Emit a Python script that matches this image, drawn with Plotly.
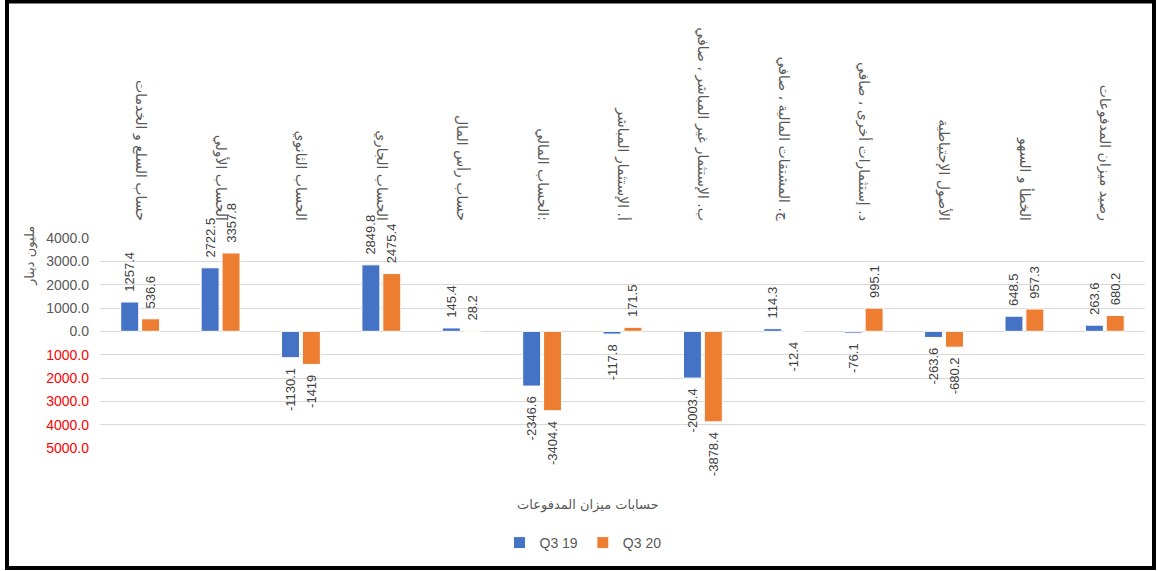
import plotly.graph_objects as go

categories = [
    "حساب السلع و الخدمات",
    "الحساب الأولي",
    "الحساب الثانوي",
    "الحساب الجاري",
    "حساب رأس المال",
    "الحساب المالي:",
    "أ. الإستثمار المباشر",
    "ب. الإستثمار غير المباشر ، صافي",
    "ج. المشتقات المالية ، صافي",
    "د. إستثمارات أخرى ، صافي",
    "الأصول الإحتياطية",
    "الخطأ و السهو",
    "رصيد ميزان المدفوعات",
]
q3_19 = [1257.4, 2722.5, -1130.1, 2849.8, 145.4, -2346.6, -117.8, -2003.4, 114.3, -76.1, -263.6, 648.5, 263.6]
q3_20 = [536.6, 3357.8, -1419, 2475.4, 28.2, -3404.4, 171.5, -3878.4, -12.4, 995.1, -680.2, 957.3, 680.2]
series_names = ["Q3 19", "Q3 20"]
tick_values = [4000, 3000, 2000, 1000, 0, -1000, -2000, -3000, -4000, -5000]

colors = ["#4472C4", "#ED7D31"]

W, H = 1158, 571
ML, MR, MT, MB = 100, 13, 238, 123
PW, PH = W - ML - MR, H - MT - MB


def label(v):
    s = f"{v:g}"
    return ("  " + s) if v >= 0 else (s + "  ")


def ticktext(v):
    s = f"{abs(v):.1f}"
    if v < 0:
        return f"<span style='color:#FF0000'>{s}</span>"
    return s


fig = go.Figure()
for name, vals, col in zip(series_names, [q3_19, q3_20], colors):
    fig.add_trace(go.Bar(
        x=categories, y=vals, name=name,
        marker=dict(color=col, line=dict(color="white", width=1)),
        text=[label(v) for v in vals],
        textposition="outside", textangle=-90,
        constraintext="none", cliponaxis=False,
        textfont=dict(family="Liberation Sans", size=13, color="#404040"),
    ))


def px_x(p):
    return (p - ML) / PW


def px_y(p):
    return (H - MB - p) / PH


fig.update_layout(
    width=W, height=H,
    margin=dict(l=ML, r=MR, t=MT, b=MB, autoexpand=False),
    paper_bgcolor="white", plot_bgcolor="white",
    barmode="group", bargap=0.48, bargroupgap=0.14,
    font=dict(family="Liberation Sans, DejaVu Sans", color="#595959"),
    xaxis=dict(
        side="top", type="category", tickangle=90,
        tickfont=dict(family="DejaVu Sans", size=14, color="#595959"),
        showgrid=False, showline=False, zeroline=False, ticks="",
        ticklabelstandoff=14, automargin=False, fixedrange=True,
    ),
    yaxis=dict(
        range=[-5000, 4000], tickvals=tick_values,
        ticktext=[ticktext(v) for v in tick_values],
        tickfont=dict(family="Liberation Sans", size=14, color="#595959"),
        showgrid=True, gridcolor="#D9D9D9", gridwidth=1,
        zeroline=False, showline=False, ticks="",
        ticklabelstandoff=10, automargin=False,
    ),
    showlegend=True,
    legend=dict(
        orientation="h", x=px_x(583), xanchor="center",
        y=px_y(543), yanchor="middle",
        font=dict(family="Liberation Sans", size=14, color="#595959"),
        itemwidth=30, bgcolor="rgba(0,0,0,0)",
    ),
    annotations=[
        dict(text="مليون دينار", x=px_x(30), y=px_y(256),
             xanchor="center", yanchor="middle",
             xref="paper", yref="paper", showarrow=False, textangle=-90,
             font=dict(family="DejaVu Sans", size=13, color="#595959")),
        dict(text="حسابات ميزان المدفوعات", x=px_x(588), y=px_y(505),
             xanchor="center", yanchor="middle",
             xref="paper", yref="paper", showarrow=False,
             font=dict(family="DejaVu Sans", size=13, color="#595959")),
    ],
    shapes=[
        dict(type="rect", xref="paper", yref="paper",
             x0=px_x(7), x1=px_x(1154), y0=px_y(568), y1=px_y(1.5),
             line=dict(color="black", width=4), fillcolor="rgba(0,0,0,0)"),
    ],
)

fig.write_html("out.html")
